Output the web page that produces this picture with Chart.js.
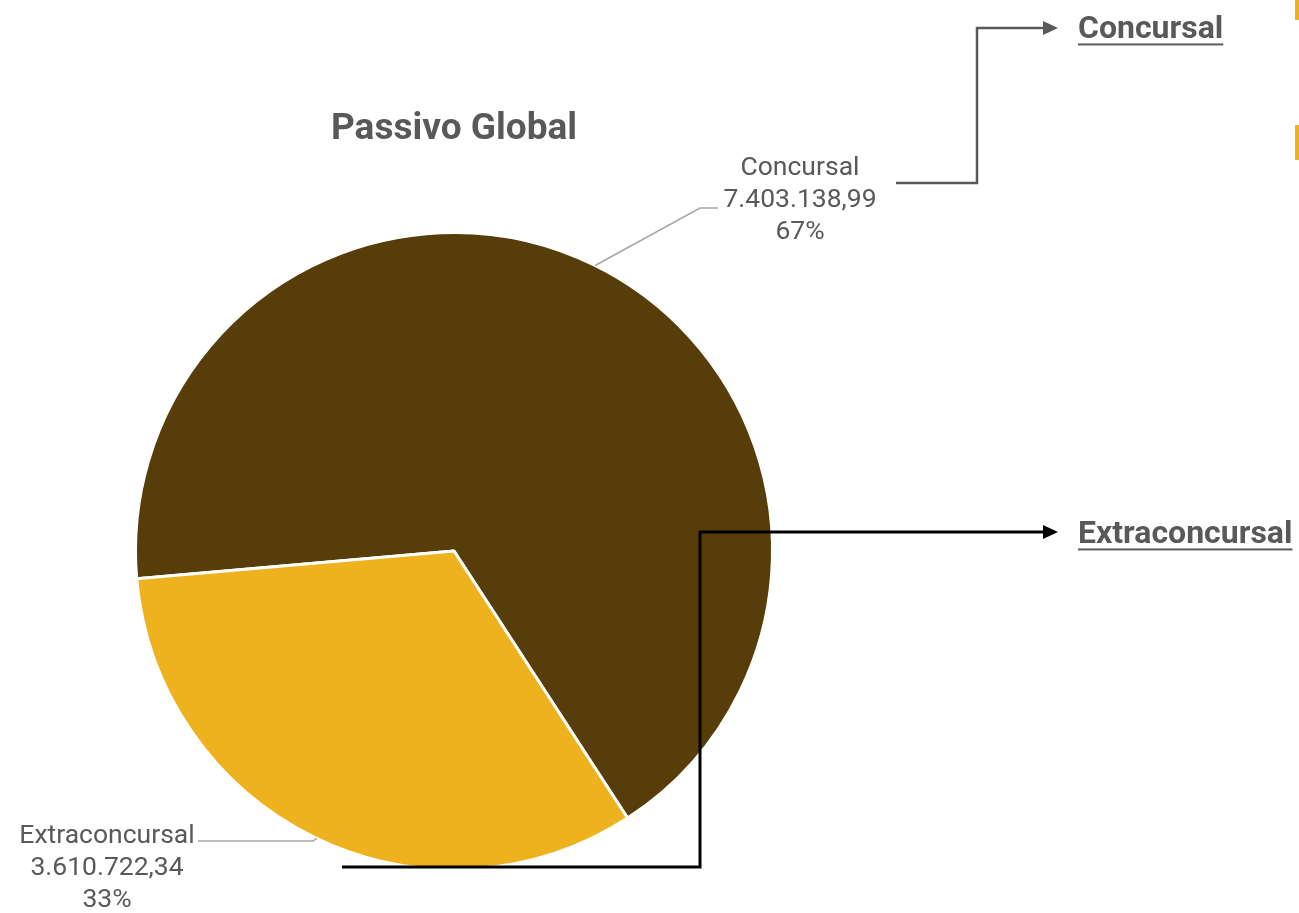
<!DOCTYPE html>
<html lang="pt">
<head>
    <meta charset="UTF-8">
    <title>Passivo Global</title>
    <script src="https://cdn.jsdelivr.net/npm/chart.js"></script>
    <style>
        html, body { margin: 0; padding: 0; background: #fff; overflow: hidden; }
        #wrap { position: relative; width: 1299px; height: 913px; }
        .tab { position: absolute; right: 0; width: 4px; background: #EDB21E; }
    </style>
</head>
<body>
    <div id="wrap">
        <canvas id="pieChart"></canvas>
        <div class="tab" style="top:0;height:20px"></div>
        <div class="tab" style="top:125px;height:35px"></div>
    </div>
    <script>
        const labels = ['Concursal', 'Extraconcursal'];
        const values = [7403138.99, 3610722.34];
        const valueText = ['7.403.138,99', '3.610.722,34'];
        const percentText = ['67%', '33%'];
        const colors = ['#563D0A', '#EDB21E'];

        const FONT = 'Roboto, "Liberation Sans", sans-serif';
        const GREY = '#595959';

        function arrowHead(ctx, x, y, color) {
            ctx.fillStyle = color;
            ctx.beginPath();
            ctx.moveTo(x, y);
            ctx.lineTo(x - 15, y - 7);
            ctx.lineTo(x - 15, y + 7);
            ctx.closePath();
            ctx.fill();
        }

        function underlined(ctx, text, x, y, size) {
            ctx.font = 'bold ' + size + 'px ' + FONT;
            ctx.fillStyle = GREY;
            ctx.textAlign = 'left';
            ctx.textBaseline = 'middle';
            ctx.fillText(text, x, y);
            const w = ctx.measureText(text).width;
            ctx.fillRect(x, y + size * 0.42, w, 2);
        }

        const annotations = {
            id: 'annotations',
            afterDraw(chart) {
                const ctx = chart.ctx;
                const arcs = chart.getDatasetMeta(0).data;
                const a0 = arcs[0];
                ctx.save();

                // title
                ctx.font = 'bold 37px ' + FONT;
                ctx.fillStyle = GREY;
                ctx.textAlign = 'center';
                ctx.textBaseline = 'middle';
                ctx.fillText('Passivo Global', 454, 130);

                // data labels
                ctx.font = '26.5px ' + FONT;
                const lab = [
                    { x: 800, y: 168, ang: -63.7, lx: 700, ly: 208, ex: 718 },
                    { x: 107, y: 836, ang: 115.5, lx: 313, ly: 841, ex: 198 }
                ];
                lab.forEach((l, i) => {
                    ctx.fillStyle = GREY;
                    ctx.fillText(labels[i], l.x, l.y);
                    ctx.fillText(valueText[i], l.x, l.y + 32);
                    ctx.fillText(percentText[i], l.x, l.y + 64);
                    const r = a0.outerRadius;
                    const t = l.ang * Math.PI / 180;
                    ctx.strokeStyle = '#A6A6A6';
                    ctx.lineWidth = 1.5;
                    ctx.beginPath();
                    ctx.moveTo(a0.x + r * Math.cos(t), a0.y + r * Math.sin(t));
                    ctx.lineTo(l.lx, l.ly);
                    ctx.lineTo(l.ex, l.ly);
                    ctx.stroke();
                });

                // grey connector to "Concursal"
                ctx.strokeStyle = GREY;
                ctx.lineWidth = 2.5;
                ctx.beginPath();
                ctx.moveTo(896, 183);
                ctx.lineTo(977, 183);
                ctx.lineTo(977, 28);
                ctx.lineTo(1044, 28);
                ctx.stroke();
                arrowHead(ctx, 1058, 28, GREY);
                underlined(ctx, 'Concursal', 1078, 30, 32);

                // black connector to "Extraconcursal"
                ctx.strokeStyle = '#000';
                ctx.lineWidth = 3;
                ctx.beginPath();
                ctx.moveTo(342, 867);
                ctx.lineTo(700, 867);
                ctx.lineTo(700, 532);
                ctx.lineTo(1044, 532);
                ctx.stroke();
                arrowHead(ctx, 1058, 532, '#000');
                underlined(ctx, 'Extraconcursal', 1078, 535, 32);

                ctx.restore();
            }
        };

        const ctx = document.getElementById('pieChart').getContext('2d');
        new Chart(ctx, {
            type: 'pie',
            data: {
                labels: labels,
                datasets: [{
                    data: values,
                    backgroundColor: colors,
                    borderColor: '#ffffff',
                    borderWidth: 3
                }]
            },
            options: {
                responsive: true,
                maintainAspectRatio: false,
                animation: false,
                rotation: 265,
                layout: { padding: { left: 134, top: 231, right: 525, bottom: 42 } },
                plugins: {
                    legend: { display: false },
                    tooltip: { enabled: false }
                }
            },
            plugins: [annotations]
        });
    </script>
</body>
</html>
